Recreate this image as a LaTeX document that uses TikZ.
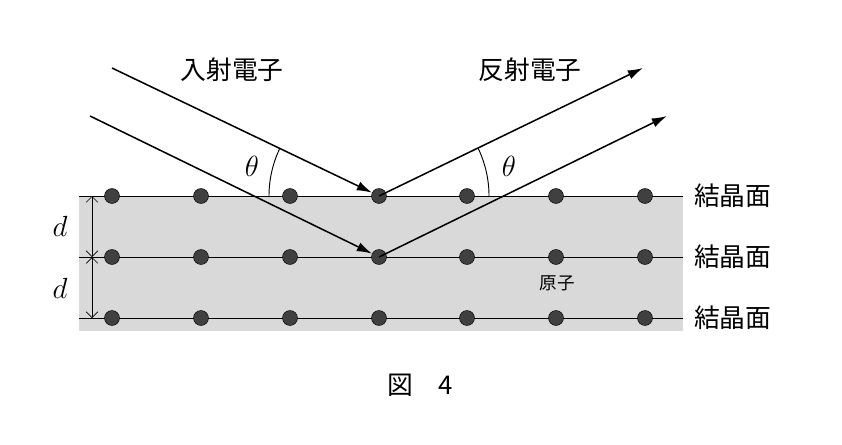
\documentclass[tikz,border=0pt]{standalone}
\usepackage{fontspec}
\newfontfamily\cjk{Noto Sans CJK JP}
\usetikzlibrary{arrows.meta}
\begin{document}
\begin{tikzpicture}[x=0.03cm,y=-0.03cm,
  atom/.style={circle,fill=black!75,draw=black,inner sep=0pt,minimum size=0.45cm},
  ray/.style={line width=1.3pt,-{Latex[length=13pt,width=8pt]}},
  lbl/.style={font=\cjk\fontsize{22}{24}\selectfont},
  sym/.style={font=\fontsize{24}{26}\selectfont}]
\useasboundingbox (0,0) rectangle (842,444);
\fill[black!15] (79,196) rectangle (683,331);
\foreach \y/\n in {196/a,257/b,318/c}{
  \draw[line width=0.8pt] (79,\y) -- (683,\y);
  \foreach \x [count=\i] in {112,201,290,379,467,556,645}
    \node[atom] (\n\i) at (\x,\y) {};
  \node[lbl,anchor=west] (f\n) at (690,\y) {結晶面};
}
\coordinate (s1) at (112,68);
\coordinate (s2) at (90,116);
\coordinate (e1) at (643,68);
\coordinate (e2) at (667,116);
\draw[ray] (s1) -- (a4);
\draw[ray] (s2) -- (b4);
\draw[ray] (a4.center) -- (e1);
\draw[ray] (b4.center) -- (e2);
\draw[line width=0.8pt] (a4.center) ++(180:3.3cm) arc[start angle=180,end angle=154.4,radius=3.3cm];
\draw[line width=0.8pt] (a4.center) ++(0:3.3cm) arc[start angle=0,end angle=25.9,radius=3.3cm];
\node[sym] (t1) at (252,166) {$\theta$};
\node[sym] (t2) at (509,166) {$\theta$};
\node[lbl] (in) at (232,70) {入射電子};
\node[lbl] (out) at (530,70) {反射電子};
\coordinate (d1) at (92,196);
\coordinate (d2) at (92,257);
\coordinate (d3) at (92,318);
\draw[{Straight Barb[length=5pt]}-{Straight Barb[length=5pt]},line width=0.6pt] (d1) -- (d2);
\draw[{Straight Barb[length=5pt]}-{Straight Barb[length=5pt]},line width=0.6pt] (d2) -- (d3);
\node[sym] (dl1) at (60,226) {$d$};
\node[sym] (dl2) at (60,288) {$d$};
\node[font=\cjk\fontsize{15}{17}\selectfont] (gen) at (557,283) {原子};
\node[lbl] (fig) at (420,385) {図\quad 4};
\end{tikzpicture}
\end{document}
